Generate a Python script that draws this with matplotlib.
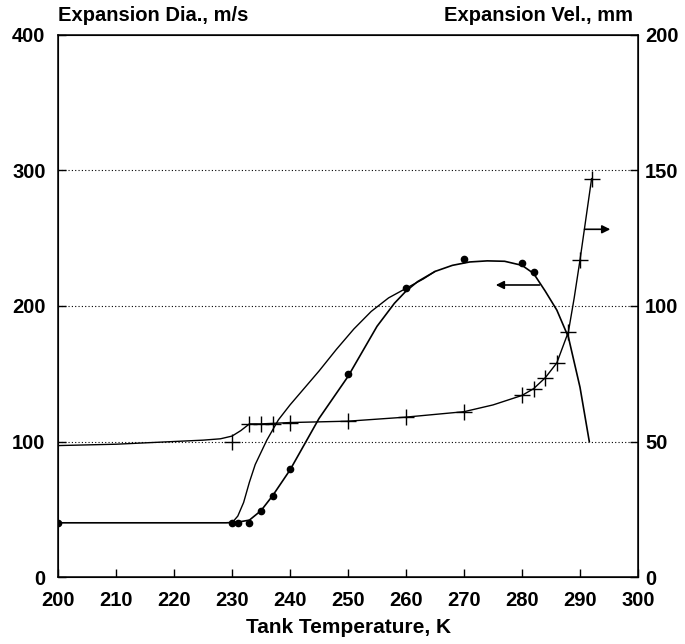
import matplotlib
matplotlib.use('Agg')
import matplotlib.pyplot as plt

plt.rcParams['font.family'] = ['Liberation Sans', 'DejaVu Sans']
plt.rcParams['font.weight'] = 'bold'

# dots, left axis (m/s)
dot_t = [200, 230, 231, 233, 235, 237, 240, 250, 260, 270, 280, 282]
dot_v = [40, 40, 40, 40, 49, 60, 80, 150, 213, 235, 232, 225]

# curve drawn through the dots
dot_line_t = [200, 229, 231, 233, 235, 237, 240, 245, 250, 255, 258, 260, 262,
              265, 268, 271, 274, 277, 280, 282, 284, 286, 288, 290, 291.6]
dot_line_v = [40, 40, 40.5, 42, 49, 60, 79, 117, 148, 185, 202, 211, 218,
              225.5, 230, 232.5, 233.3, 233, 230, 224, 211, 197, 177, 140, 100]

# second branch, no markers
branch_t = [230, 231, 232, 233, 234, 236, 238, 240, 243, 245, 248, 251,
            254, 257, 260, 263, 265]
branch_v = [40, 45, 55, 70, 83, 101, 116, 127, 142, 152, 168, 183,
            196, 206, 213, 220, 225.5]

# crosses, right axis (mm)
plus_t = [230, 233, 235, 237, 240, 250, 260, 270, 280, 282, 284, 286, 288, 290, 292]
plus_v = [50, 56.5, 56.5, 56.5, 57, 57.5, 59, 61, 67, 69.5, 73.5, 79, 90.5, 117, 147]

plus_line_t = [200, 210, 220, 225, 228, 230, 231.5, 233, 235, 240, 250, 260,
               270, 275, 280, 282, 284, 286, 288, 289, 290, 291, 292]
plus_line_v = [48.5, 49, 50, 50.5, 51, 52, 54, 56.5, 56.5, 57, 57.5, 59,
               61, 63.5, 67, 69.5, 73.5, 79, 90.5, 103, 117, 132, 147]

x_ticks = list(range(200, 301, 10))
left_ticks = [0, 100, 200, 300, 400]
right_ticks = [0, 50, 100, 150, 200]

fig = plt.figure(figsize=(6.85, 6.44), dpi=100)
ax = fig.add_axes([0.0847, 0.104, 0.8467, 0.8417])
ax2 = ax.twinx()

ax.plot(dot_line_t, dot_line_v, color='black', lw=1.2)
ax.plot(branch_t, branch_v, color='black', lw=1.0)
ax.plot(dot_t, dot_v, 'o', color='black', ms=4.5)
ax2.plot(plus_line_t, plus_line_v, color='black', lw=1.0)
ax2.plot(plus_t, plus_v, '+', color='black', ms=12, mew=1.0)

ax.set_xlim(200, 300)
ax.set_ylim(0, 400)
ax2.set_ylim(0, 200)
ax.set_xticks(x_ticks)
ax.set_yticks(left_ticks)
ax2.set_yticks(right_ticks)

for yv in [100, 200, 300]:
    ax.axhline(yv, color='black', lw=0.8, ls=(0, (1, 2)), zorder=0)

ax.tick_params(axis='x', direction='in', length=6, width=1, labelsize=14.5, pad=10)
ax.tick_params(axis='y', direction='in', length=6, width=1, labelsize=14.5, pad=9)
ax2.tick_params(direction='in', length=6, width=1, labelsize=14.5, pad=5)
for sp in ax.spines.values():
    sp.set_linewidth(1.1)

# arrows showing which axis each curve uses
ax.annotate('', xy=(275, 215.5), xytext=(283.5, 215.5),
            arrowprops=dict(arrowstyle='-|>', color='black', lw=1.2,
                            mutation_scale=12))
ax2.annotate('', xy=(295.7, 128.3), xytext=(290.3, 128.3),
             arrowprops=dict(arrowstyle='-|>', color='black', lw=1.2,
                             mutation_scale=12))

ax.text(0.0, 1.018, 'Expansion Dia., m/s', transform=ax.transAxes,
        fontsize=14.5, fontweight='bold', ha='left', va='bottom')
ax.text(0.992, 1.018, 'Expansion Vel., mm', transform=ax.transAxes,
        fontsize=14.5, fontweight='bold', ha='right', va='bottom')
ax.set_xlabel('Tank Temperature, K', fontsize=15, fontweight='bold', labelpad=6)

fig.savefig('out.png', dpi=100)
